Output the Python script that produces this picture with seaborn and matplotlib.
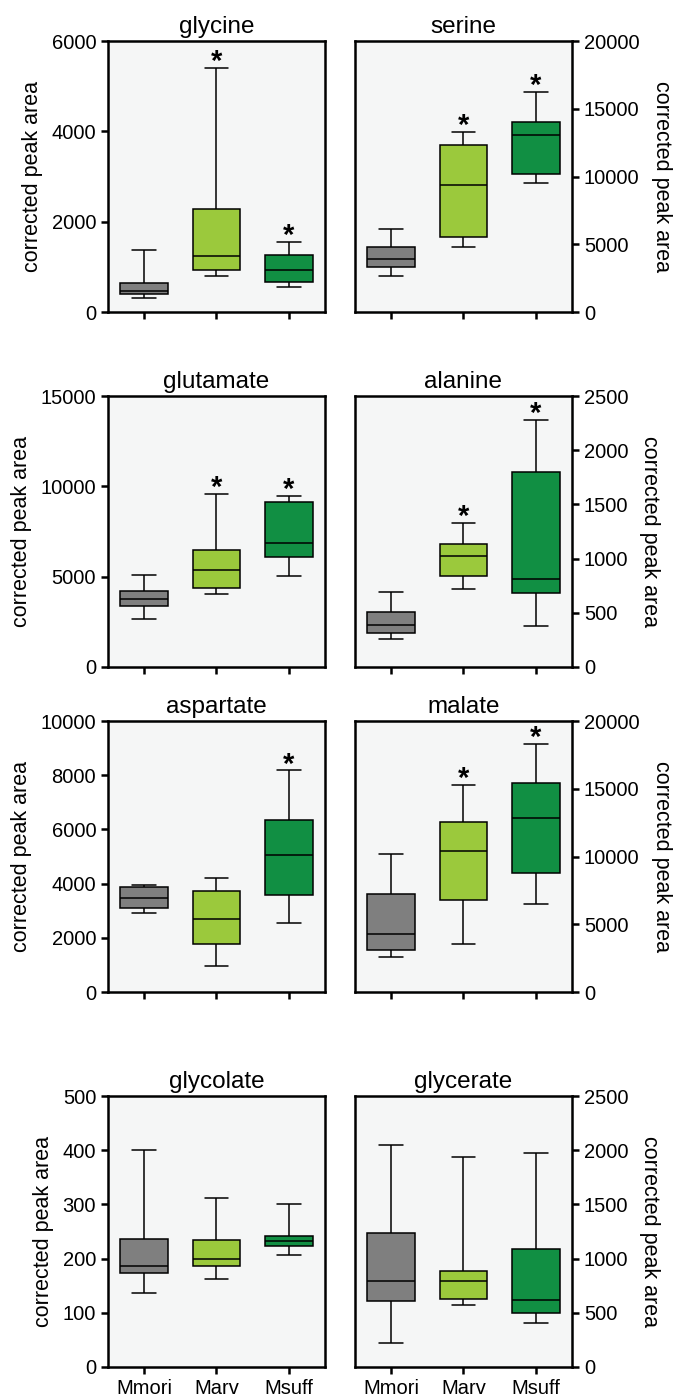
import pandas as pd
import matplotlib.pyplot as plt
import seaborn as sns

# groups and colours
groups = ["Mmori", "Marv", "Msuff"]
colors = ["#7f7f7f", "#9bc93c", "#118f43"]

# five-number summaries: min, q1, median, q3, max
glycine = [[302, 391, 464, 634, 1364], [803, 936, 1246, 2285, 5410], [545, 671, 929, 1260, 1548]]
serine = [[2660, 3325, 3916, 4828, 6108], [4778, 5542, 9360, 12340, 13276], [9532, 10222, 13079, 14015, 16231]]
glutamate = [[2647, 3364, 3750, 4209, 5092], [4062, 4393, 5368, 6471, 9559], [5037, 6084, 6856, 9154, 9485]]
alanine = [[258, 316, 383, 503, 693], [721, 840, 1021, 1132, 1331], [380, 681, 816, 1800, 2276]]
aspartate = [[2906, 3103, 3473, 3867, 3941], [948, 1786, 2709, 3719, 4212], [2537, 3596, 5074, 6342, 8177]]
malate = [[2611, 3128, 4310, 7266, 10221], [3522, 6798, 10394, 12586, 15271], [6527, 8818, 12882, 15394, 18300]]
glycolate = [[136, 173, 187, 237, 400], [162, 186, 200, 234, 312], [207, 223, 232, 242, 300]]
glycerate = [[224, 608, 792, 1238, 2045], [568, 630, 795, 887, 1935], [408, 501, 617, 1090, 1972]]

panels = [
    ("glycine", glycine, 6000, [0, 2000, 4000, 6000], [1, 2]),
    ("serine", serine, 20000, [0, 5000, 10000, 15000, 20000], [1, 2]),
    ("glutamate", glutamate, 15000, [0, 5000, 10000, 15000], [1, 2]),
    ("alanine", alanine, 2500, [0, 500, 1000, 1500, 2000, 2500], [1, 2]),
    ("aspartate", aspartate, 10000, [0, 2000, 4000, 6000, 8000, 10000], [2]),
    ("malate", malate, 20000, [0, 5000, 10000, 15000, 20000], [1, 2]),
    ("glycolate", glycolate, 500, [0, 100, 200, 300, 400, 500], []),
    ("glycerate", glycerate, 2500, [0, 500, 1000, 1500, 2000, 2500], []),
]

sns.set_style("ticks")
plt.rcParams["font.family"] = ["Liberation Sans", "DejaVu Sans"]
plt.rcParams["text.color"] = "black"
plt.rcParams["axes.labelcolor"] = "black"
plt.rcParams["xtick.color"] = "black"
plt.rcParams["ytick.color"] = "black"

fig = plt.figure(figsize=(6.89, 13.98), dpi=100)

lefts = [0.1567, 0.5152]
bottoms = [0.7768, 0.5229, 0.2904, 0.0222]
w, h = 0.315, 0.1938

for k, (name, stats, ymax, yticks, stars) in enumerate(panels):
    row, col = divmod(k, 2)
    ax = fig.add_axes([lefts[col], bottoms[row], w, h])
    ax.set_facecolor("#f5f6f6")

    rows = []
    for g, vals in zip(groups, stats):
        for v in vals:
            rows.append({"group": g, "value": v})
    df = pd.DataFrame(rows)

    sns.boxplot(data=df, x="group", y="value", hue="group", order=groups,
                hue_order=groups, palette=colors, saturation=1, whis=(0, 100),
                width=0.66, linecolor="black", linewidth=1.1, legend=False, ax=ax)

    # significance stars above the upper whisker
    for i in stars:
        ax.annotate("*", xy=(i, stats[i][4]), xytext=(0, -1.5), textcoords="offset points",
                    ha="center", va="baseline", fontsize=21, fontweight="bold", color="black")

    ax.set_ylim(0, ymax)
    ax.set_xlim(-0.5, 2.5)
    ax.set_yticks(yticks)
    ax.set_xlabel("")
    ax.set_title(name, fontsize=17.5, pad=6)

    for s in ax.spines.values():
        s.set_linewidth(1.8)
        s.set_color("black")
    ax.tick_params(axis="both", width=1.8, length=5, labelsize=14.5)

    ax.set_xticks([0, 1, 2])
    if row == 3:
        ax.set_xticklabels(groups, fontsize=14.5)
    else:
        ax.set_xticklabels([])

    if col == 0:
        ax.set_ylabel("corrected peak area", fontsize=15.5, labelpad=6)
    else:
        ax.yaxis.tick_right()
        ax.yaxis.set_label_position("right")
        ax.set_ylabel("corrected peak area", fontsize=15.5, rotation=270,
                      va="bottom", labelpad=8)

fig.savefig("out.png", dpi=100)
